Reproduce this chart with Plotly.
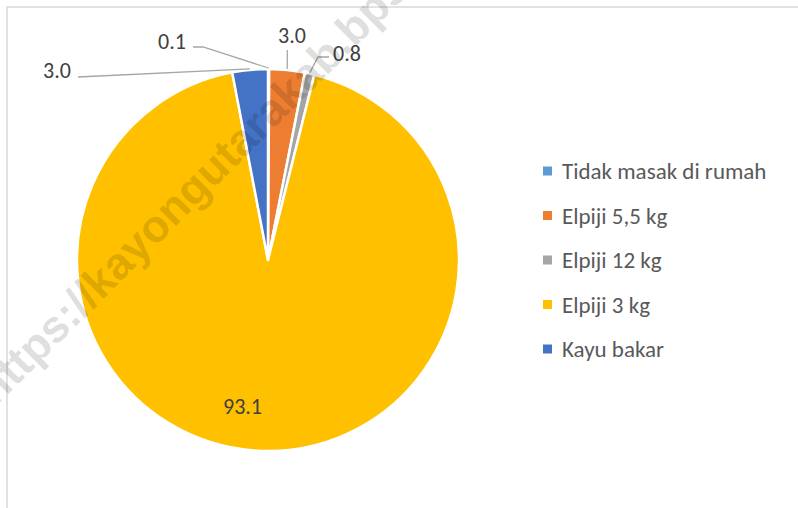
import math
import plotly.graph_objects as go

# ---- data ----
labels = ["Tidak masak di rumah", "Elpiji 5,5 kg", "Elpiji 12 kg", "Elpiji 3 kg", "Kayu bakar"]
values = [0.1, 3.0, 0.8, 93.1, 3.0]
colors = ["#5B9BD5", "#ED7D31", "#A5A5A5", "#FFC000", "#4472C4"]

W, H = 798, 508
FONT = "Calibri, Carlito, Lato, sans-serif"

# pie geometry (pixels)
CX, CY, R = 268, 260, 191

def px(x):
    return x / W

def py(y):
    return 1 - y / H

fig = go.Figure()
fig.add_trace(go.Pie(
    labels=labels, values=values, sort=False, direction="clockwise", rotation=0,
    marker=dict(colors=colors, line=dict(color="white", width=2.5)),
    textinfo="none", hoverinfo="label+value", showlegend=False,
    domain=dict(x=[px(CX - R), px(CX + R)], y=[py(CY + R), py(CY - R)]),
))

# label placements (style): label centre, optional elbow point
label_style = {
    "Tidak masak di rumah": dict(pos=(172, 42), path=[(193, 47), (203, 47)]),
    "Elpiji 5,5 kg": dict(pos=(292, 36), path=[(None, 50)]),
    "Elpiji 12 kg": dict(pos=(347, 53), path=[(329, 57), (318, 57)]),
    "Elpiji 3 kg": dict(pos=(242, 406), path=None),
    "Kayu bakar": dict(pos=(57, 71), path=[(78, 77)]),
}

total = sum(values)
cum = 0.0
annotations = []
shapes = []
for lab, v in zip(labels, values):
    mid = (cum + v / 2) / total * 2 * math.pi
    cum += v
    ax = CX + (R + 1) * math.sin(mid)
    ay = CY - (R + 1) * math.cos(mid)
    st = label_style[lab]
    annotations.append(dict(
        x=px(st["pos"][0]), y=py(st["pos"][1]), xref="paper", yref="paper",
        text=f"{v:.1f}", showarrow=False, xanchor="center", yanchor="middle",
        font=dict(family=FONT, size=22, color="#404040"),
    ))
    if st["path"]:
        pts = [(ax if x is None else x, y) for x, y in st["path"]] + [(ax, ay)]
        d = "M " + " L ".join(f"{px(x):.5f},{py(y):.5f}" for x, y in pts)
        shapes.append(dict(type="path", path=d, xref="paper", yref="paper",
                           line=dict(color="#A6A6A6", width=1.3)))

# manual legend
LEG_X, LEG_Y0, LEG_DY, SQ = 543, 171, 44.5, 9
for i, (lab, c) in enumerate(zip(labels, colors)):
    yc = LEG_Y0 + i * LEG_DY
    shapes.append(dict(type="rect", xref="paper", yref="paper",
                       x0=px(LEG_X), x1=px(LEG_X + SQ), y0=py(yc + SQ / 2), y1=py(yc - SQ / 2),
                       fillcolor=c, line=dict(width=0)))
    annotations.append(dict(
        x=px(560), y=py(yc), xref="paper", yref="paper", text=lab, showarrow=False,
        xanchor="left", yanchor="middle",
        font=dict(family=FONT, size=23, color="#595959"),
    ))

# chart frame
shapes.append(dict(type="rect", xref="paper", yref="paper",
                   x0=px(7), x1=px(W + 20), y0=py(H + 20), y1=py(7),
                   line=dict(color="#D9D9D9", width=1.5), fillcolor="rgba(0,0,0,0)"))

# watermark
annotations.append(dict(
    x=px(235), y=py(146), xref="paper", yref="paper",
    text="https://kayongutarakab.bps.go.id", showarrow=False, textangle=-45,
    font=dict(family="Liberation Sans, Arial, sans-serif", size=45,
              color="rgba(0,0,0,0.14)", weight="bold"),
    xanchor="center", yanchor="middle",
))

fig.update_layout(
    width=W, height=H, autosize=False,
    margin=dict(l=0, r=0, t=0, b=0),
    paper_bgcolor="white", plot_bgcolor="white",
    shapes=shapes, annotations=annotations,
)

fig.write_html("out.html", config={"displayModeBar": False},
               post_script="document.body.style.margin='0';")
